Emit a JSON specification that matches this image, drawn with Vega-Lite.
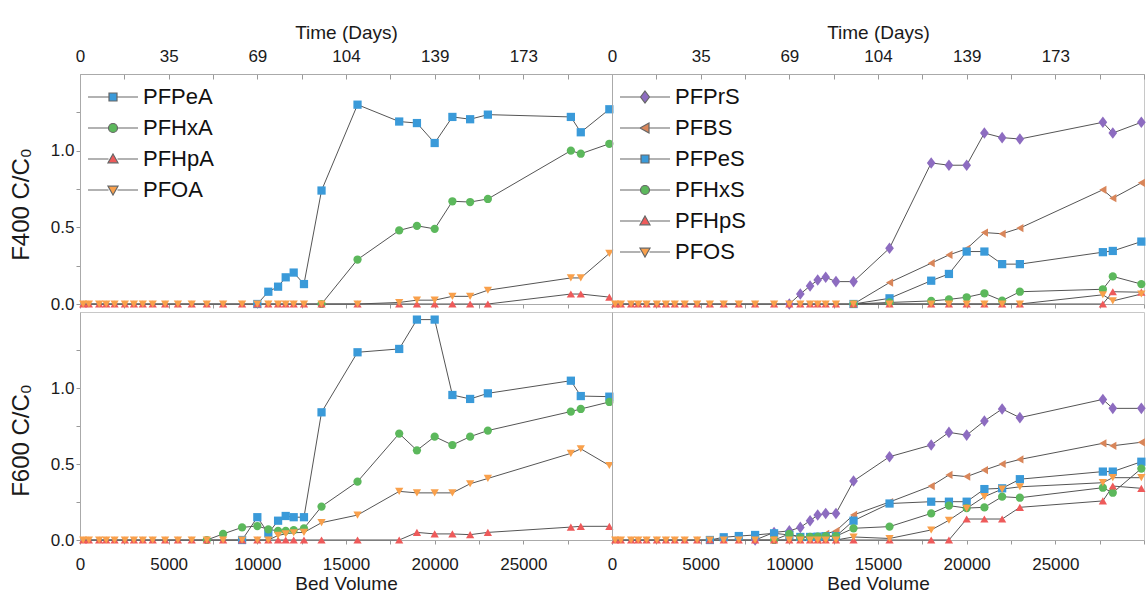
{
"$schema": "https://vega.github.io/schema/vega-lite/v6.json",
"padding": {"left": 8, "top": 22, "right": 2, "bottom": 2},
"background": "white",
"config": {
  "font": "Liberation Sans",
  "view": {"stroke": "#c8c8c8", "strokeWidth": 1},
  "axis": {"labelFontSize": 17, "titleFontSize": 19, "titleFontWeight": "normal", "labelColor": "#1a1a1a", "titleColor": "#1a1a1a", "domainColor": "#aaaaaa", "tickColor": "#999999", "grid": false, "labelFlush": false, "labelOverlap": false, "labelBound": false},
  "legend": {"labelColor": "#111111"}
},
"datasets": {
"tl": [
{"s":"PFPeA","bv":10000,"v":0},{"s":"PFPeA","bv":10620,"v":0.08},{"s":"PFPeA","bv":11170,"v":0.113},{"s":"PFPeA","bv":11600,"v":0.174},{"s":"PFPeA","bv":12050,"v":0.205},{"s":"PFPeA","bv":12630,"v":0.13},{"s":"PFPeA","bv":13620,"v":0.74},{"s":"PFPeA","bv":15650,"v":1.3},{"s":"PFPeA","bv":18000,"v":1.19},{"s":"PFPeA","bv":19000,"v":1.18},{"s":"PFPeA","bv":20000,"v":1.05},{"s":"PFPeA","bv":21000,"v":1.22},{"s":"PFPeA","bv":22000,"v":1.205},{"s":"PFPeA","bv":23000,"v":1.235},{"s":"PFPeA","bv":27680,"v":1.22},{"s":"PFPeA","bv":28240,"v":1.12},{"s":"PFPeA","bv":29850,"v":1.27},
{"s":"PFHxA","bv":13620,"v":0},{"s":"PFHxA","bv":15650,"v":0.29},{"s":"PFHxA","bv":18000,"v":0.48},{"s":"PFHxA","bv":19000,"v":0.51},{"s":"PFHxA","bv":20000,"v":0.49},{"s":"PFHxA","bv":21000,"v":0.67},{"s":"PFHxA","bv":22000,"v":0.665},{"s":"PFHxA","bv":23000,"v":0.685},{"s":"PFHxA","bv":27680,"v":1.0},{"s":"PFHxA","bv":28240,"v":0.98},{"s":"PFHxA","bv":29850,"v":1.045},
{"s":"PFHpA","bv":180,"v":0},{"s":"PFHpA","bv":500,"v":0},{"s":"PFHpA","bv":1080,"v":0},{"s":"PFHpA","bv":1480,"v":0},{"s":"PFHpA","bv":1950,"v":0},{"s":"PFHpA","bv":2530,"v":0},{"s":"PFHpA","bv":3040,"v":0},{"s":"PFHpA","bv":3540,"v":0},{"s":"PFHpA","bv":4100,"v":0},{"s":"PFHpA","bv":4800,"v":0},{"s":"PFHpA","bv":5520,"v":0},{"s":"PFHpA","bv":6300,"v":0},{"s":"PFHpA","bv":7150,"v":0},{"s":"PFHpA","bv":8070,"v":0},{"s":"PFHpA","bv":9140,"v":0},{"s":"PFHpA","bv":10000,"v":0},{"s":"PFHpA","bv":10620,"v":0},{"s":"PFHpA","bv":11170,"v":0},{"s":"PFHpA","bv":11600,"v":0},{"s":"PFHpA","bv":12050,"v":0},{"s":"PFHpA","bv":12630,"v":0},{"s":"PFHpA","bv":13620,"v":0},{"s":"PFHpA","bv":15650,"v":0},{"s":"PFHpA","bv":18000,"v":0},{"s":"PFHpA","bv":19000,"v":0},{"s":"PFHpA","bv":20000,"v":0},{"s":"PFHpA","bv":21000,"v":0},{"s":"PFHpA","bv":22000,"v":0},{"s":"PFHpA","bv":23000,"v":0},{"s":"PFHpA","bv":27680,"v":0.065},{"s":"PFHpA","bv":28240,"v":0.065},{"s":"PFHpA","bv":29850,"v":0.045},
{"s":"PFOA","bv":180,"v":0},{"s":"PFOA","bv":500,"v":0},{"s":"PFOA","bv":1080,"v":0},{"s":"PFOA","bv":1480,"v":0},{"s":"PFOA","bv":1950,"v":0},{"s":"PFOA","bv":2530,"v":0},{"s":"PFOA","bv":3040,"v":0},{"s":"PFOA","bv":3540,"v":0},{"s":"PFOA","bv":4100,"v":0},{"s":"PFOA","bv":4800,"v":0},{"s":"PFOA","bv":5520,"v":0},{"s":"PFOA","bv":6300,"v":0},{"s":"PFOA","bv":7150,"v":0},{"s":"PFOA","bv":8070,"v":0},{"s":"PFOA","bv":9140,"v":0},{"s":"PFOA","bv":10000,"v":0},{"s":"PFOA","bv":10620,"v":0},{"s":"PFOA","bv":11170,"v":0},{"s":"PFOA","bv":11600,"v":0},{"s":"PFOA","bv":12050,"v":0},{"s":"PFOA","bv":12630,"v":0},{"s":"PFOA","bv":13620,"v":0},{"s":"PFOA","bv":15650,"v":0},{"s":"PFOA","bv":18000,"v":0.01},{"s":"PFOA","bv":19000,"v":0.025},{"s":"PFOA","bv":20000,"v":0.025},{"s":"PFOA","bv":21000,"v":0.05},{"s":"PFOA","bv":22000,"v":0.05},{"s":"PFOA","bv":23000,"v":0.09},{"s":"PFOA","bv":27680,"v":0.17},{"s":"PFOA","bv":28240,"v":0.17},{"s":"PFOA","bv":29850,"v":0.33}
],
"tr": [
{"s":"PFPrS","bv":10000,"v":0},{"s":"PFPrS","bv":10620,"v":0.065},{"s":"PFPrS","bv":11170,"v":0.118},{"s":"PFPrS","bv":11600,"v":0.157},{"s":"PFPrS","bv":12050,"v":0.174},{"s":"PFPrS","bv":12630,"v":0.146},{"s":"PFPrS","bv":13620,"v":0.146},{"s":"PFPrS","bv":15650,"v":0.364},{"s":"PFPrS","bv":18000,"v":0.92},{"s":"PFPrS","bv":19000,"v":0.905},{"s":"PFPrS","bv":20000,"v":0.905},{"s":"PFPrS","bv":21000,"v":1.115},{"s":"PFPrS","bv":22000,"v":1.085},{"s":"PFPrS","bv":23000,"v":1.076},{"s":"PFPrS","bv":27680,"v":1.185},{"s":"PFPrS","bv":28240,"v":1.115},{"s":"PFPrS","bv":29850,"v":1.185},
{"s":"PFBS","bv":13620,"v":0},{"s":"PFBS","bv":15650,"v":0.14},{"s":"PFBS","bv":18000,"v":0.266},{"s":"PFBS","bv":19000,"v":0.32},{"s":"PFBS","bv":20000,"v":0.36},{"s":"PFBS","bv":21000,"v":0.466},{"s":"PFBS","bv":22000,"v":0.458},{"s":"PFBS","bv":23000,"v":0.495},{"s":"PFBS","bv":27680,"v":0.745},{"s":"PFBS","bv":28240,"v":0.69},{"s":"PFBS","bv":29850,"v":0.79},
{"s":"PFPeS","bv":13620,"v":0},{"s":"PFPeS","bv":15650,"v":0.037},{"s":"PFPeS","bv":18000,"v":0.152},{"s":"PFPeS","bv":19000,"v":0.196},{"s":"PFPeS","bv":20000,"v":0.342},{"s":"PFPeS","bv":21000,"v":0.342},{"s":"PFPeS","bv":22000,"v":0.26},{"s":"PFPeS","bv":23000,"v":0.26},{"s":"PFPeS","bv":27680,"v":0.338},{"s":"PFPeS","bv":28240,"v":0.346},{"s":"PFPeS","bv":29850,"v":0.407},
{"s":"PFHxS","bv":13620,"v":0},{"s":"PFHxS","bv":15650,"v":0.01},{"s":"PFHxS","bv":18000,"v":0.02},{"s":"PFHxS","bv":19000,"v":0.03},{"s":"PFHxS","bv":20000,"v":0.044},{"s":"PFHxS","bv":21000,"v":0.07},{"s":"PFHxS","bv":22000,"v":0.022},{"s":"PFHxS","bv":23000,"v":0.08},{"s":"PFHxS","bv":27680,"v":0.096},{"s":"PFHxS","bv":28240,"v":0.18},{"s":"PFHxS","bv":29850,"v":0.13},
{"s":"PFHpS","bv":180,"v":0},{"s":"PFHpS","bv":500,"v":0},{"s":"PFHpS","bv":1080,"v":0},{"s":"PFHpS","bv":1480,"v":0},{"s":"PFHpS","bv":1950,"v":0},{"s":"PFHpS","bv":2530,"v":0},{"s":"PFHpS","bv":3040,"v":0},{"s":"PFHpS","bv":3540,"v":0},{"s":"PFHpS","bv":4100,"v":0},{"s":"PFHpS","bv":4800,"v":0},{"s":"PFHpS","bv":5520,"v":0},{"s":"PFHpS","bv":6300,"v":0},{"s":"PFHpS","bv":7150,"v":0},{"s":"PFHpS","bv":8070,"v":0},{"s":"PFHpS","bv":9140,"v":0},{"s":"PFHpS","bv":10000,"v":0},{"s":"PFHpS","bv":10620,"v":0},{"s":"PFHpS","bv":11170,"v":0},{"s":"PFHpS","bv":11600,"v":0},{"s":"PFHpS","bv":12050,"v":0},{"s":"PFHpS","bv":12630,"v":0},{"s":"PFHpS","bv":13620,"v":0},{"s":"PFHpS","bv":15650,"v":0},{"s":"PFHpS","bv":18000,"v":0},{"s":"PFHpS","bv":19000,"v":0},{"s":"PFHpS","bv":20000,"v":0},{"s":"PFHpS","bv":21000,"v":0},{"s":"PFHpS","bv":22000,"v":0},{"s":"PFHpS","bv":23000,"v":0},{"s":"PFHpS","bv":27680,"v":0},{"s":"PFHpS","bv":28240,"v":0.08},{"s":"PFHpS","bv":29850,"v":0.077},
{"s":"PFOS","bv":180,"v":0},{"s":"PFOS","bv":500,"v":0},{"s":"PFOS","bv":1080,"v":0},{"s":"PFOS","bv":1480,"v":0},{"s":"PFOS","bv":1950,"v":0},{"s":"PFOS","bv":2530,"v":0},{"s":"PFOS","bv":3040,"v":0},{"s":"PFOS","bv":3540,"v":0},{"s":"PFOS","bv":4100,"v":0},{"s":"PFOS","bv":4800,"v":0},{"s":"PFOS","bv":5520,"v":0},{"s":"PFOS","bv":6300,"v":0},{"s":"PFOS","bv":7150,"v":0},{"s":"PFOS","bv":8070,"v":0},{"s":"PFOS","bv":9140,"v":0},{"s":"PFOS","bv":10000,"v":0},{"s":"PFOS","bv":10620,"v":0},{"s":"PFOS","bv":11170,"v":0},{"s":"PFOS","bv":11600,"v":0},{"s":"PFOS","bv":12050,"v":0},{"s":"PFOS","bv":12630,"v":0},{"s":"PFOS","bv":13620,"v":0},{"s":"PFOS","bv":15650,"v":0},{"s":"PFOS","bv":18000,"v":0},{"s":"PFOS","bv":19000,"v":0},{"s":"PFOS","bv":20000,"v":0},{"s":"PFOS","bv":21000,"v":0},{"s":"PFOS","bv":22000,"v":0},{"s":"PFOS","bv":23000,"v":0},{"s":"PFOS","bv":27680,"v":0.06},{"s":"PFOS","bv":28240,"v":0.02},{"s":"PFOS","bv":29850,"v":0.065}
],
"bl": [
{"s":"PFPeA","bv":9140,"v":0},{"s":"PFPeA","bv":10000,"v":0.15},{"s":"PFPeA","bv":10620,"v":0.044},{"s":"PFPeA","bv":11170,"v":0.127},{"s":"PFPeA","bv":11600,"v":0.158},{"s":"PFPeA","bv":12050,"v":0.15},{"s":"PFPeA","bv":12630,"v":0.15},{"s":"PFPeA","bv":13620,"v":0.84},{"s":"PFPeA","bv":15650,"v":1.235},{"s":"PFPeA","bv":18000,"v":1.257},{"s":"PFPeA","bv":19000,"v":1.45},{"s":"PFPeA","bv":20000,"v":1.45},{"s":"PFPeA","bv":21000,"v":0.954},{"s":"PFPeA","bv":22000,"v":0.928},{"s":"PFPeA","bv":23000,"v":0.965},{"s":"PFPeA","bv":27680,"v":1.048},{"s":"PFPeA","bv":28240,"v":0.947},{"s":"PFPeA","bv":29850,"v":0.943},
{"s":"PFHxA","bv":7150,"v":0},{"s":"PFHxA","bv":8070,"v":0.04},{"s":"PFHxA","bv":9140,"v":0.083},{"s":"PFHxA","bv":10000,"v":0.092},{"s":"PFHxA","bv":10620,"v":0.07},{"s":"PFHxA","bv":11170,"v":0.06},{"s":"PFHxA","bv":11600,"v":0.06},{"s":"PFHxA","bv":12050,"v":0.065},{"s":"PFHxA","bv":12630,"v":0.077},{"s":"PFHxA","bv":13620,"v":0.22},{"s":"PFHxA","bv":15650,"v":0.384},{"s":"PFHxA","bv":18000,"v":0.7},{"s":"PFHxA","bv":19000,"v":0.59},{"s":"PFHxA","bv":20000,"v":0.68},{"s":"PFHxA","bv":21000,"v":0.625},{"s":"PFHxA","bv":22000,"v":0.68},{"s":"PFHxA","bv":23000,"v":0.72},{"s":"PFHxA","bv":27680,"v":0.845},{"s":"PFHxA","bv":28240,"v":0.862},{"s":"PFHxA","bv":29850,"v":0.908},
{"s":"PFHpA","bv":180,"v":0},{"s":"PFHpA","bv":500,"v":0},{"s":"PFHpA","bv":1080,"v":0},{"s":"PFHpA","bv":1480,"v":0},{"s":"PFHpA","bv":1950,"v":0},{"s":"PFHpA","bv":2530,"v":0},{"s":"PFHpA","bv":3040,"v":0},{"s":"PFHpA","bv":3540,"v":0},{"s":"PFHpA","bv":4100,"v":0},{"s":"PFHpA","bv":4800,"v":0},{"s":"PFHpA","bv":5520,"v":0},{"s":"PFHpA","bv":6300,"v":0},{"s":"PFHpA","bv":7150,"v":0},{"s":"PFHpA","bv":8070,"v":0},{"s":"PFHpA","bv":9140,"v":0},{"s":"PFHpA","bv":10000,"v":0},{"s":"PFHpA","bv":10620,"v":0},{"s":"PFHpA","bv":11170,"v":0},{"s":"PFHpA","bv":11600,"v":0},{"s":"PFHpA","bv":12050,"v":0},{"s":"PFHpA","bv":12630,"v":0},{"s":"PFHpA","bv":13620,"v":0},{"s":"PFHpA","bv":15650,"v":0},{"s":"PFHpA","bv":18000,"v":0},{"s":"PFHpA","bv":19000,"v":0.05},{"s":"PFHpA","bv":20000,"v":0.04},{"s":"PFHpA","bv":21000,"v":0.04},{"s":"PFHpA","bv":22000,"v":0.035},{"s":"PFHpA","bv":23000,"v":0.05},{"s":"PFHpA","bv":27680,"v":0.085},{"s":"PFHpA","bv":28240,"v":0.09},{"s":"PFHpA","bv":29850,"v":0.09},
{"s":"PFOA","bv":180,"v":0},{"s":"PFOA","bv":500,"v":0},{"s":"PFOA","bv":1080,"v":0},{"s":"PFOA","bv":1480,"v":0},{"s":"PFOA","bv":1950,"v":0},{"s":"PFOA","bv":2530,"v":0},{"s":"PFOA","bv":3040,"v":0},{"s":"PFOA","bv":3540,"v":0},{"s":"PFOA","bv":4100,"v":0},{"s":"PFOA","bv":4800,"v":0},{"s":"PFOA","bv":5520,"v":0},{"s":"PFOA","bv":6300,"v":0},{"s":"PFOA","bv":7150,"v":0},{"s":"PFOA","bv":8070,"v":0},{"s":"PFOA","bv":9140,"v":0},{"s":"PFOA","bv":10000,"v":0},{"s":"PFOA","bv":10620,"v":0},{"s":"PFOA","bv":11170,"v":0.03},{"s":"PFOA","bv":11600,"v":0.04},{"s":"PFOA","bv":12050,"v":0.048},{"s":"PFOA","bv":12630,"v":0.05},{"s":"PFOA","bv":13620,"v":0.114},{"s":"PFOA","bv":15650,"v":0.164},{"s":"PFOA","bv":18000,"v":0.32},{"s":"PFOA","bv":19000,"v":0.31},{"s":"PFOA","bv":20000,"v":0.31},{"s":"PFOA","bv":21000,"v":0.31},{"s":"PFOA","bv":22000,"v":0.37},{"s":"PFOA","bv":23000,"v":0.405},{"s":"PFOA","bv":27680,"v":0.57},{"s":"PFOA","bv":28240,"v":0.6},{"s":"PFOA","bv":29850,"v":0.49}
],
"br": [
{"s":"PFPrS","bv":8070,"v":0},{"s":"PFPrS","bv":9140,"v":0.05},{"s":"PFPrS","bv":10000,"v":0.06},{"s":"PFPrS","bv":10620,"v":0.083},{"s":"PFPrS","bv":11170,"v":0.127},{"s":"PFPrS","bv":11600,"v":0.164},{"s":"PFPrS","bv":12050,"v":0.175},{"s":"PFPrS","bv":12630,"v":0.175},{"s":"PFPrS","bv":13620,"v":0.388},{"s":"PFPrS","bv":15650,"v":0.548},{"s":"PFPrS","bv":18000,"v":0.625},{"s":"PFPrS","bv":19000,"v":0.708},{"s":"PFPrS","bv":20000,"v":0.69},{"s":"PFPrS","bv":21000,"v":0.783},{"s":"PFPrS","bv":22000,"v":0.862},{"s":"PFPrS","bv":23000,"v":0.805},{"s":"PFPrS","bv":27680,"v":0.925},{"s":"PFPrS","bv":28240,"v":0.866},{"s":"PFPrS","bv":29850,"v":0.866},
{"s":"PFBS","bv":11600,"v":0},{"s":"PFBS","bv":12050,"v":0.04},{"s":"PFBS","bv":12630,"v":0.06},{"s":"PFBS","bv":13620,"v":0.165},{"s":"PFBS","bv":15650,"v":0.25},{"s":"PFBS","bv":18000,"v":0.355},{"s":"PFBS","bv":19000,"v":0.428},{"s":"PFBS","bv":20000,"v":0.417},{"s":"PFBS","bv":21000,"v":0.46},{"s":"PFBS","bv":22000,"v":0.5},{"s":"PFBS","bv":23000,"v":0.53},{"s":"PFBS","bv":27680,"v":0.636},{"s":"PFBS","bv":28240,"v":0.62},{"s":"PFBS","bv":29850,"v":0.643},
{"s":"PFPeS","bv":5520,"v":0},{"s":"PFPeS","bv":6300,"v":0.018},{"s":"PFPeS","bv":7150,"v":0.026},{"s":"PFPeS","bv":8070,"v":0.033},{"s":"PFPeS","bv":9140,"v":0.044},{"s":"PFPeS","bv":10000,"v":0.033},{"s":"PFPeS","bv":10620,"v":0.02},{"s":"PFPeS","bv":11170,"v":0.02},{"s":"PFPeS","bv":11600,"v":0.022},{"s":"PFPeS","bv":12050,"v":0.025},{"s":"PFPeS","bv":12630,"v":0.025},{"s":"PFPeS","bv":13620,"v":0.127},{"s":"PFPeS","bv":15650,"v":0.24},{"s":"PFPeS","bv":18000,"v":0.252},{"s":"PFPeS","bv":19000,"v":0.252},{"s":"PFPeS","bv":20000,"v":0.252},{"s":"PFPeS","bv":21000,"v":0.335},{"s":"PFPeS","bv":22000,"v":0.34},{"s":"PFPeS","bv":23000,"v":0.4},{"s":"PFPeS","bv":27680,"v":0.45},{"s":"PFPeS","bv":28240,"v":0.45},{"s":"PFPeS","bv":29850,"v":0.515},
{"s":"PFHxS","bv":9140,"v":0},{"s":"PFHxS","bv":10000,"v":0.04},{"s":"PFHxS","bv":10620,"v":0.018},{"s":"PFHxS","bv":11170,"v":0.02},{"s":"PFHxS","bv":11600,"v":0.022},{"s":"PFHxS","bv":12050,"v":0.025},{"s":"PFHxS","bv":12630,"v":0.025},{"s":"PFHxS","bv":13620,"v":0.077},{"s":"PFHxS","bv":15650,"v":0.088},{"s":"PFHxS","bv":18000,"v":0.175},{"s":"PFHxS","bv":19000,"v":0.226},{"s":"PFHxS","bv":20000,"v":0.21},{"s":"PFHxS","bv":21000,"v":0.215},{"s":"PFHxS","bv":22000,"v":0.285},{"s":"PFHxS","bv":23000,"v":0.278},{"s":"PFHxS","bv":27680,"v":0.344},{"s":"PFHxS","bv":28240,"v":0.311},{"s":"PFHxS","bv":29850,"v":0.47},
{"s":"PFHpS","bv":180,"v":0},{"s":"PFHpS","bv":500,"v":0},{"s":"PFHpS","bv":1080,"v":0},{"s":"PFHpS","bv":1480,"v":0},{"s":"PFHpS","bv":1950,"v":0},{"s":"PFHpS","bv":2530,"v":0},{"s":"PFHpS","bv":3040,"v":0},{"s":"PFHpS","bv":3540,"v":0},{"s":"PFHpS","bv":4100,"v":0},{"s":"PFHpS","bv":4800,"v":0},{"s":"PFHpS","bv":5520,"v":0},{"s":"PFHpS","bv":6300,"v":0},{"s":"PFHpS","bv":7150,"v":0},{"s":"PFHpS","bv":8070,"v":0},{"s":"PFHpS","bv":9140,"v":0},{"s":"PFHpS","bv":10000,"v":0},{"s":"PFHpS","bv":10620,"v":0},{"s":"PFHpS","bv":11170,"v":0},{"s":"PFHpS","bv":11600,"v":0},{"s":"PFHpS","bv":12050,"v":0},{"s":"PFHpS","bv":12630,"v":0},{"s":"PFHpS","bv":13620,"v":0},{"s":"PFHpS","bv":15650,"v":0},{"s":"PFHpS","bv":18000,"v":0},{"s":"PFHpS","bv":19000,"v":0},{"s":"PFHpS","bv":20000,"v":0.138},{"s":"PFHpS","bv":21000,"v":0.138},{"s":"PFHpS","bv":22000,"v":0.138},{"s":"PFHpS","bv":23000,"v":0.215},{"s":"PFHpS","bv":27680,"v":0.257},{"s":"PFHpS","bv":28240,"v":0.355},{"s":"PFHpS","bv":29850,"v":0.34},
{"s":"PFOS","bv":180,"v":0},{"s":"PFOS","bv":500,"v":0},{"s":"PFOS","bv":1080,"v":0},{"s":"PFOS","bv":1480,"v":0},{"s":"PFOS","bv":1950,"v":0},{"s":"PFOS","bv":2530,"v":0},{"s":"PFOS","bv":3040,"v":0},{"s":"PFOS","bv":3540,"v":0},{"s":"PFOS","bv":4100,"v":0},{"s":"PFOS","bv":4800,"v":0},{"s":"PFOS","bv":5520,"v":0},{"s":"PFOS","bv":6300,"v":0},{"s":"PFOS","bv":7150,"v":0},{"s":"PFOS","bv":8070,"v":0},{"s":"PFOS","bv":9140,"v":0},{"s":"PFOS","bv":10000,"v":0},{"s":"PFOS","bv":10620,"v":0},{"s":"PFOS","bv":11170,"v":0},{"s":"PFOS","bv":11600,"v":0},{"s":"PFOS","bv":12050,"v":0},{"s":"PFOS","bv":12630,"v":0},{"s":"PFOS","bv":13620,"v":0.02},{"s":"PFOS","bv":15650,"v":0.01},{"s":"PFOS","bv":18000,"v":0.066},{"s":"PFOS","bv":19000,"v":0.13},{"s":"PFOS","bv":20000,"v":0.208},{"s":"PFOS","bv":21000,"v":0.285},{"s":"PFOS","bv":22000,"v":0.335},{"s":"PFOS","bv":23000,"v":0.35},{"s":"PFOS","bv":27680,"v":0.377},{"s":"PFOS","bv":28240,"v":0.41},{"s":"PFOS","bv":29850,"v":0.41}
]
},
"columns": 2,
"spacing": {"row": 8, "column": 0},
"bounds": "flush",
"resolve": {"scale": {"color": "independent", "shape": "independent"}},
"concat": [
{
"width": 532, "height": 230,
"data": {"name": "tl"},
"layer": [
{"mark": {"type": "line", "color": "#555555", "strokeWidth": 1},
 "encoding": {
  "x": {"field": "bv", "type": "quantitative", "scale": {"domain": [0, 30000], "nice": false, "zero": false}, "axis": {"orient": "bottom", "values": [0,2500,5000,7500,10000,12500,15000,17500,20000,22500,25000,27500,30000], "labels": false, "title": null, "tickSize": 4}},
  "y": {"field": "v", "type": "quantitative", "scale": {"domain": [0, 1.5], "nice": false}, "axis": {"orient": "left", "values": [0,0.25,0.5,0.75,1,1.25], "labelExpr": "datum.value == 0 || datum.value == 0.5 || datum.value == 1 ? format(datum.value, '.1f') : ''", "title": "F400 C/C₀", "titleFontSize": 24, "titleY": 130, "tickSize": 4, "labelPadding": 2, "titlePadding": 17}},
  "detail": {"field": "s"}}},
{"mark": {"type": "point", "filled": true, "size": 68, "opacity": 1},
 "encoding": {
  "x": {"field": "bv", "type": "quantitative", "axis": {"orient": "top", "values": [0,2500,5000,7500,10000,12500,15000,17500,20000,22500,25000,27500,30000], "labelExpr": "datum.value == 0 ? '0' : datum.value == 5000 ? '35' : datum.value == 10000 ? '69' : datum.value == 15000 ? '104' : datum.value == 20000 ? '139' : datum.value == 25000 ? '173' : ''", "title": "Time (Days)", "tickSize": -5, "labelPadding": 14, "titlePadding": 5}},
  "y": {"field": "v", "type": "quantitative"},
  "color": {"field": "s", "type": "nominal", "scale": {"domain": ["PFPeA","PFHxA","PFHpA","PFOA"], "range": ["#3a9ad9","#5cb85c","#ee5a5a","#f9a04b"]}, "legend": null},
  "shape": {"field": "s", "type": "nominal", "scale": {"domain": ["PFPeA","PFHxA","PFHpA","PFOA"], "range": ["square","circle","triangle-up","triangle-down"]}, "legend": null}}},
{"mark": {"type": "point", "filled": true, "opacity": 0, "stroke": "#666666", "strokeWidth": 1.2},
 "encoding": {
  "color": {"field": "s", "type": "nominal", "scale": {"domain": ["PFPeA","PFHxA","PFHpA","PFOA"], "range": ["#3a9ad9","#5cb85c","#ee5a5a","#f9a04b"]}, "legend": {"title": null, "orient": "none", "legendX": 22, "legendY": 12, "symbolSize": 400, "symbolStrokeWidth": 1.2, "symbolOpacity": 1, "labelFontSize": 22, "labelOffset": 19, "rowPadding": 9, "padding": 0, "labelLimit": 300}},
  "shape": {"field": "s", "type": "nominal", "scale": {"domain": ["PFPeA","PFHxA","PFHpA","PFOA"], "range": ["M-2.5,0H-0.42M0.42,0H2.5M-0.4,-0.4H0.4V0.4H-0.4Z","M-2.5,0H-0.45M0.45,0H2.5M-0.45,0A0.45,0.45,0,1,0,0.45,0A0.45,0.45,0,1,0,-0.45,0Z","M-2.5,0H-0.45M0.45,0H2.5M0,-0.5L0.5,0.38L-0.5,0.38Z","M-2.5,0H-0.45M0.45,0H2.5M0,0.5L0.5,-0.38L-0.5,-0.38Z"]}, "legend": {"title": null, "orient": "none", "legendX": 22, "legendY": 12, "symbolSize": 400, "symbolStrokeWidth": 1.2, "symbolOpacity": 1, "labelFontSize": 22, "labelOffset": 19, "rowPadding": 9, "padding": 0, "labelLimit": 300}}}}
],
"resolve": {"scale": {"color": "independent", "shape": "independent"}, "axis": {"x": "independent"}}
},
{
"width": 532, "height": 230,
"data": {"name": "tr"},
"layer": [
{"mark": {"type": "line", "color": "#555555", "strokeWidth": 1},
 "encoding": {
  "x": {"field": "bv", "type": "quantitative", "scale": {"domain": [0, 30000], "nice": false, "zero": false}, "axis": {"orient": "bottom", "values": [0,2500,5000,7500,10000,12500,15000,17500,20000,22500,25000,27500,30000], "labels": false, "title": null, "tickSize": 4}},
  "y": {"field": "v", "type": "quantitative", "scale": {"domain": [0, 1.5], "nice": false}, "axis": {"orient": "left", "labels": false, "ticks": false, "title": null}},
  "detail": {"field": "s"}}},
{"mark": {"type": "point", "filled": true, "size": 68, "opacity": 1},
 "encoding": {
  "x": {"field": "bv", "type": "quantitative", "axis": {"orient": "top", "values": [0,2500,5000,7500,10000,12500,15000,17500,20000,22500,25000,27500,30000], "labelExpr": "datum.value == 0 ? '0' : datum.value == 5000 ? '35' : datum.value == 10000 ? '69' : datum.value == 15000 ? '104' : datum.value == 20000 ? '139' : datum.value == 25000 ? '173' : ''", "title": "Time (Days)", "tickSize": -5, "labelPadding": 14, "titlePadding": 5}},
  "y": {"field": "v", "type": "quantitative"},
  "color": {"field": "s", "type": "nominal", "scale": {"domain": ["PFPrS","PFBS","PFPeS","PFHxS","PFHpS","PFOS"], "range": ["#8d6cc0","#d9865a","#3a9ad9","#5cb85c","#ee5a5a","#f9a04b"]}, "legend": null},
  "shape": {"field": "s", "type": "nominal", "scale": {"domain": ["PFPrS","PFBS","PFPeS","PFHxS","PFHpS","PFOS"], "range": ["M0,-1.4L1.05,0L0,1.4L-1.05,0Z","triangle-left","square","circle","triangle-up","triangle-down"]}, "legend": null}}},
{"mark": {"type": "point", "filled": true, "opacity": 0, "stroke": "#666666", "strokeWidth": 1.2},
 "encoding": {
  "color": {"field": "s", "type": "nominal", "scale": {"domain": ["PFPrS","PFBS","PFPeS","PFHxS","PFHpS","PFOS"], "range": ["#8d6cc0","#d9865a","#3a9ad9","#5cb85c","#ee5a5a","#f9a04b"]}, "legend": {"title": null, "orient": "none", "legendX": 22, "legendY": 12, "symbolSize": 400, "symbolStrokeWidth": 1.2, "symbolOpacity": 1, "labelFontSize": 22, "labelOffset": 19, "rowPadding": 9, "padding": 0, "labelLimit": 300}},
  "shape": {"field": "s", "type": "nominal", "scale": {"domain": ["PFPrS","PFBS","PFPeS","PFHxS","PFHpS","PFOS"], "range": ["M-2.5,0H-0.5M0.5,0H2.5M0,-0.6L0.45,0L0,0.6L-0.45,0Z","M-2.5,0H-0.5M0.45,0H2.5M-0.5,0L0.4,-0.5L0.4,0.5Z","M-2.5,0H-0.42M0.42,0H2.5M-0.4,-0.4H0.4V0.4H-0.4Z","M-2.5,0H-0.45M0.45,0H2.5M-0.45,0A0.45,0.45,0,1,0,0.45,0A0.45,0.45,0,1,0,-0.45,0Z","M-2.5,0H-0.45M0.45,0H2.5M0,-0.5L0.5,0.38L-0.5,0.38Z","M-2.5,0H-0.45M0.45,0H2.5M0,0.5L0.5,-0.38L-0.5,-0.38Z"]}, "legend": {"title": null, "orient": "none", "legendX": 22, "legendY": 12, "symbolSize": 400, "symbolStrokeWidth": 1.2, "symbolOpacity": 1, "labelFontSize": 22, "labelOffset": 19, "rowPadding": 9, "padding": 0, "labelLimit": 300}}}}
],
"resolve": {"scale": {"color": "independent", "shape": "independent"}, "axis": {"x": "independent"}}
},
{
"width": 532, "height": 228,
"data": {"name": "bl"},
"layer": [
{"mark": {"type": "line", "color": "#555555", "strokeWidth": 1},
 "encoding": {
  "x": {"field": "bv", "type": "quantitative", "scale": {"domain": [0, 30000], "nice": false, "zero": false}, "axis": {"orient": "bottom", "values": [0,2500,5000,7500,10000,12500,15000,17500,20000,22500,25000,27500,30000], "format": "d", "labelExpr": "datum.value % 5000 == 0 && datum.value < 30000 ? datum.label : ''", "title": "Bed Volume", "tickSize": 4, "labelPadding": 12, "titlePadding": 2}},
  "y": {"field": "v", "type": "quantitative", "scale": {"domain": [0, 1.5], "nice": false}, "axis": {"orient": "left", "values": [0,0.25,0.5,0.75,1,1.25], "labelExpr": "datum.value == 0 || datum.value == 0.5 || datum.value == 1 ? format(datum.value, '.1f') : ''", "title": "F600 C/C₀", "titleFontSize": 24, "titleY": 128, "tickSize": 4, "labelPadding": 2, "titlePadding": 17}},
  "detail": {"field": "s"}}},
{"mark": {"type": "point", "filled": true, "size": 68, "opacity": 1},
 "encoding": {
  "x": {"field": "bv", "type": "quantitative"},
  "y": {"field": "v", "type": "quantitative"},
  "color": {"field": "s", "type": "nominal", "scale": {"domain": ["PFPeA","PFHxA","PFHpA","PFOA"], "range": ["#3a9ad9","#5cb85c","#ee5a5a","#f9a04b"]}, "legend": null},
  "shape": {"field": "s", "type": "nominal", "scale": {"domain": ["PFPeA","PFHxA","PFHpA","PFOA"], "range": ["square","circle","triangle-up","triangle-down"]}, "legend": null}}}
],
"resolve": {"scale": {"color": "independent", "shape": "independent"}}
},
{
"width": 532, "height": 228,
"data": {"name": "br"},
"layer": [
{"mark": {"type": "line", "color": "#555555", "strokeWidth": 1},
 "encoding": {
  "x": {"field": "bv", "type": "quantitative", "scale": {"domain": [0, 30000], "nice": false, "zero": false}, "axis": {"orient": "bottom", "values": [0,2500,5000,7500,10000,12500,15000,17500,20000,22500,25000,27500,30000], "format": "d", "labelExpr": "datum.value % 5000 == 0 && datum.value < 30000 ? datum.label : ''", "title": "Bed Volume", "tickSize": 4, "labelPadding": 12, "titlePadding": 2}},
  "y": {"field": "v", "type": "quantitative", "scale": {"domain": [0, 1.5], "nice": false}, "axis": {"orient": "left", "labels": false, "ticks": false, "title": null}},
  "detail": {"field": "s"}}},
{"mark": {"type": "point", "filled": true, "size": 68, "opacity": 1},
 "encoding": {
  "x": {"field": "bv", "type": "quantitative"},
  "y": {"field": "v", "type": "quantitative"},
  "color": {"field": "s", "type": "nominal", "scale": {"domain": ["PFPrS","PFBS","PFPeS","PFHxS","PFHpS","PFOS"], "range": ["#8d6cc0","#d9865a","#3a9ad9","#5cb85c","#ee5a5a","#f9a04b"]}, "legend": null},
  "shape": {"field": "s", "type": "nominal", "scale": {"domain": ["PFPrS","PFBS","PFPeS","PFHxS","PFHpS","PFOS"], "range": ["M0,-1.4L1.05,0L0,1.4L-1.05,0Z","triangle-left","square","circle","triangle-up","triangle-down"]}, "legend": null}}}
],
"resolve": {"scale": {"color": "independent", "shape": "independent"}}
}
]
}
